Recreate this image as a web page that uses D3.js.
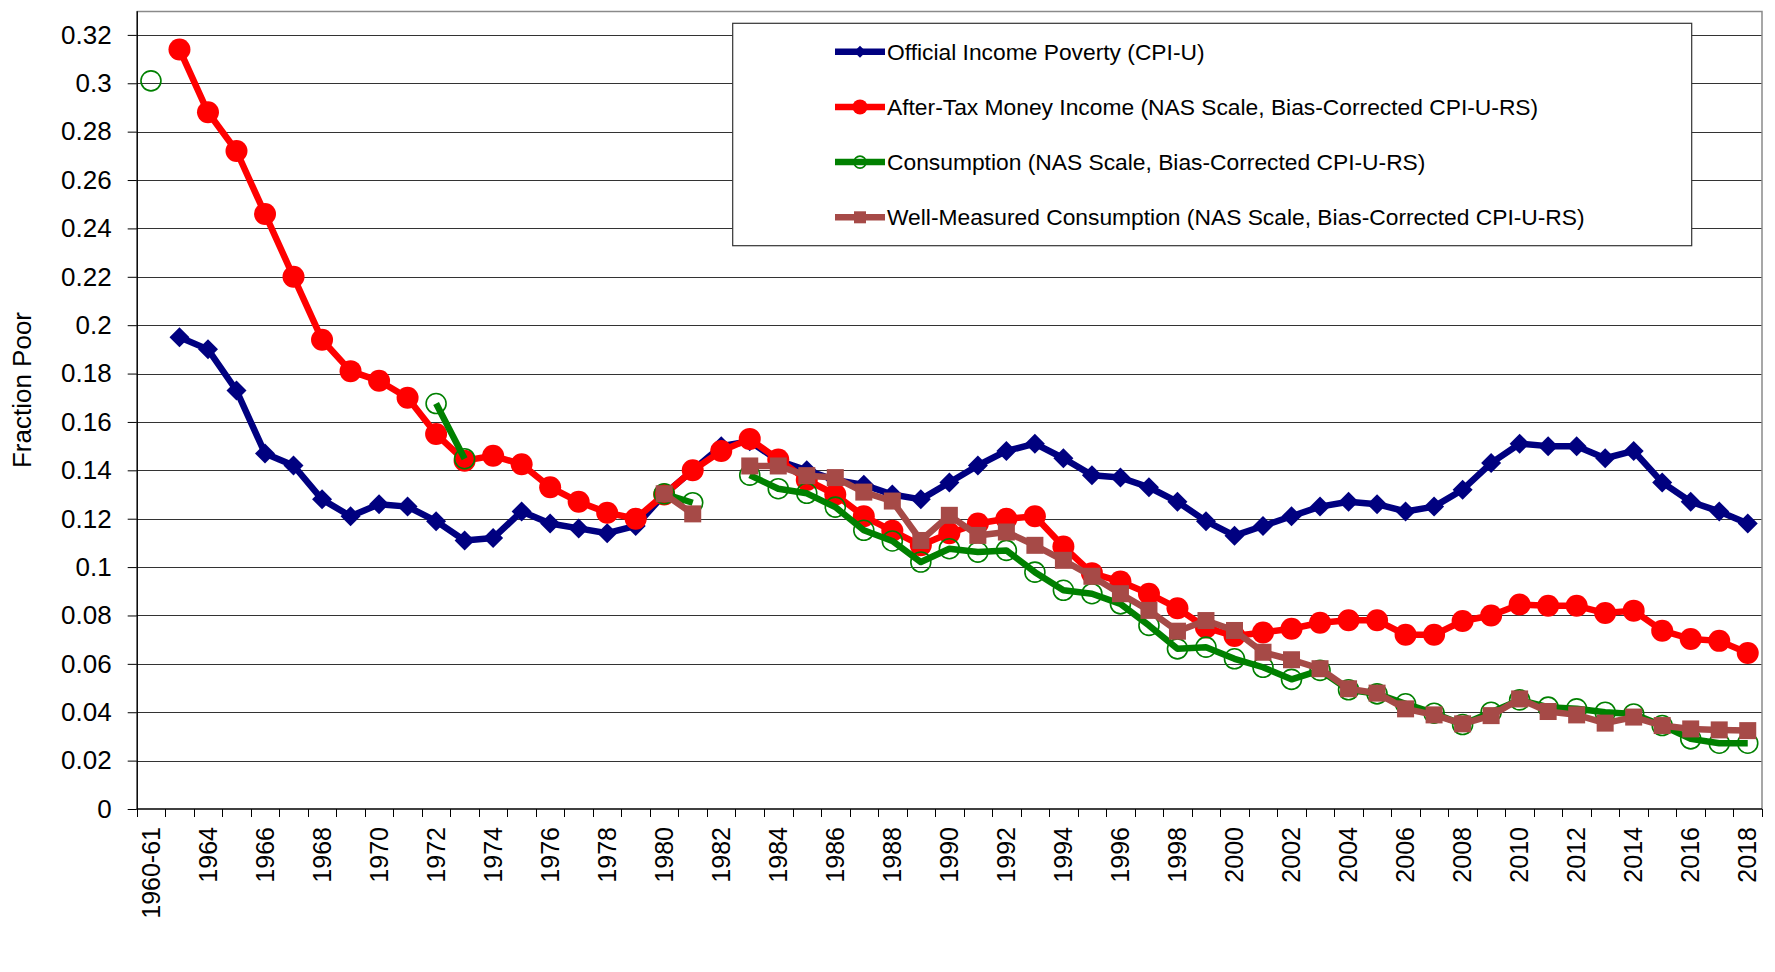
<!DOCTYPE html>
<html>
<head>
<meta charset="utf-8">
<script src="https://cdnjs.cloudflare.com/ajax/libs/d3/7.8.5/d3.min.js"></script>
<style>
  body { margin: 0; background: #fff; }
  text { font-family: Arial, "Liberation Sans", sans-serif; fill: #000; }
</style>
</head>
<body>
<div id="chart_div"></div>
<script>
// categories (1962 is not in the data, 1960-61 is one survey)
var categories = ["1960-61", "1963", "1964", "1965", "1966", "1967", "1968", "1969", "1970", "1971",
  "1972", "1973", "1974", "1975", "1976", "1977", "1978", "1979", "1980", "1981",
  "1982", "1983", "1984", "1985", "1986", "1987", "1988", "1989", "1990", "1991",
  "1992", "1993", "1994", "1995", "1996", "1997", "1998", "1999", "2000", "2001",
  "2002", "2003", "2004", "2005", "2006", "2007", "2008", "2009", "2010", "2011",
  "2012", "2013", "2014", "2015", "2016", "2017", "2018"];

var official = [null, 0.195, 0.190, 0.173, 0.147, 0.142, 0.128, 0.121, 0.126, 0.125,
  0.119, 0.111, 0.112, 0.123, 0.118, 0.116, 0.114, 0.117, 0.130, 0.140,
  0.150, 0.152, 0.144, 0.140, 0.136, 0.134, 0.130, 0.128, 0.135, 0.142,
  0.148, 0.151, 0.145, 0.138, 0.137, 0.133, 0.127, 0.119, 0.113, 0.117,
  0.121, 0.125, 0.127, 0.126, 0.123, 0.125, 0.132, 0.143, 0.151, 0.150,
  0.150, 0.145, 0.148, 0.135, 0.127, 0.123, 0.118];

var afterTax = [null, 0.314, 0.288, 0.272, 0.246, 0.220, 0.194, 0.181, 0.177, 0.170,
  0.155, 0.144, 0.146, 0.1425, 0.133, 0.127, 0.1225, 0.120, 0.130, 0.140,
  0.148, 0.153, 0.1445, 0.136, 0.130, 0.121, 0.115, 0.109, 0.114, 0.118,
  0.120, 0.121, 0.1085, 0.0975, 0.094, 0.089, 0.083, 0.075, 0.0715, 0.073,
  0.0745, 0.077, 0.078, 0.078, 0.072, 0.072, 0.0777, 0.080, 0.0845, 0.084,
  0.084, 0.081, 0.082, 0.0737, 0.0703, 0.0695, 0.0645];

var consumption = [0.301, null, null, null, null, null, null, null, null, null,
  0.1676, 0.1448, null, null, null, null, null, null, 0.1303, 0.1266,
  null, 0.138, 0.1324, 0.1305, 0.1248, 0.1152, 0.1108, 0.1021, 0.1076, 0.1062,
  0.1069, 0.0979, 0.0904, 0.089, 0.0848, 0.0759, 0.0662, 0.0669, 0.0621, 0.0586,
  0.0536, 0.0573, 0.0493, 0.0476, 0.0435, 0.0396, 0.0349, 0.040, 0.0451, 0.0421,
  0.0414, 0.040, 0.0393, 0.0345, 0.029, 0.0272, 0.0272];

var wellMeasured = [null, null, null, null, null, null, null, null, null, null,
  null, null, null, null, null, null, null, null, 0.1303, 0.122,
  null, 0.1418, 0.1418, 0.1378, 0.137, 0.131, 0.1273, 0.111, 0.1214, 0.1131,
  0.1145, 0.109, 0.1028, 0.0962, 0.089, 0.0821, 0.0735, 0.0779, 0.0738, 0.0648,
  0.0617, 0.058, 0.0497, 0.0479, 0.0414, 0.0389, 0.0352, 0.0386, 0.0455, 0.0403,
  0.0389, 0.0355, 0.038, 0.0345, 0.0331, 0.0327, 0.0324];

var yTicks = [0, 0.02, 0.04, 0.06, 0.08, 0.1, 0.12, 0.14, 0.16, 0.18, 0.2, 0.22, 0.24, 0.26, 0.28, 0.3, 0.32];

var seriesNames = [
  "Official Income Poverty (CPI-U)",
  "After-Tax Money Income (NAS Scale, Bias-Corrected CPI-U-RS)",
  "Consumption (NAS Scale, Bias-Corrected CPI-U-RS)",
  "Well-Measured Consumption (NAS Scale, Bias-Corrected CPI-U-RS)"
];

var width = 1775, height = 972;
var plot = { left: 136.7, right: 1762, top: 10.7, bottom: 809 };

var svg = d3.select("#chart_div")
  .append("svg")
  .attr("width", width)
  .attr("height", height);

// scales
var x = d3.scaleBand()
  .domain(categories)
  .range([plot.left, plot.right])
  .paddingInner(0)
  .paddingOuter(0);

var y = d3.scaleLinear()
  .domain([0, 0.33])
  .range([plot.bottom, plot.top]);

function cx(d, i) { return x(categories[i]) + x.bandwidth() / 2; }

// gridlines
svg.append("g")
  .selectAll("line")
  .data(yTicks.slice(1))
  .enter()
  .append("line")
  .attr("x1", plot.left)
  .attr("x2", plot.right)
  .attr("y1", function(d) { return Math.round(y(d)) + 0.5; })
  .attr("y2", function(d) { return Math.round(y(d)) + 0.5; })
  .attr("stroke", "#333")
  .attr("stroke-width", 1);

// plot border top / right
svg.append("path")
  .attr("d", "M" + plot.left + "," + (Math.round(plot.top) + 0.5) + "H" + plot.right + "V" + plot.bottom)
  .attr("fill", "none")
  .attr("stroke", "#8a8a8a")
  .attr("stroke-width", 1.5);

// Y axis
var yAxis = svg.append("g")
  .attr("transform", "translate(" + plot.left + ",0)")
  .call(d3.axisLeft(y)
    .tickValues(yTicks)
    .tickSize(9)
    .tickSizeOuter(0)
    .tickPadding(16)
    .tickFormat(function(d) { return String(+d.toFixed(2)); }));
yAxis.select(".domain").attr("stroke", "#000").attr("stroke-width", 1.5);
yAxis.selectAll(".tick line").attr("stroke", "#000");
yAxis.selectAll("text")
  .style("font-family", "Arial, 'Liberation Sans', sans-serif")
  .style("font-size", "26px");

// X axis: ticks at every category boundary, labels on every other category
var xg = svg.append("g");
xg.append("line")
  .attr("x1", plot.left)
  .attr("x2", plot.right)
  .attr("y1", plot.bottom)
  .attr("y2", plot.bottom)
  .attr("stroke", "#000")
  .attr("stroke-width", 1.5);

var boundaries = categories.map(function(c) { return x(c); }).concat([plot.right]);
xg.selectAll(".xtick")
  .data(boundaries)
  .enter()
  .append("line")
  .attr("class", "xtick")
  .attr("x1", function(d) { return Math.round(d) + 0.5; })
  .attr("x2", function(d) { return Math.round(d) + 0.5; })
  .attr("y1", plot.bottom)
  .attr("y2", plot.bottom + 8)
  .attr("stroke", "#000");

xg.selectAll(".xlabel")
  .data(categories.filter(function(c, i) { return i % 2 === 0; }))
  .enter()
  .append("text")
  .attr("class", "xlabel")
  .attr("transform", function(d) {
    return "translate(" + (x(d) + x.bandwidth() / 2) + "," + (plot.bottom + 18) + ") rotate(-90)";
  })
  .attr("text-anchor", "end")
  .attr("dy", "0.35em")
  .style("font-size", "25px")
  .text(function(d) { return d; });

// Y title
svg.append("text")
  .attr("transform", "translate(22,390) rotate(-90)")
  .attr("text-anchor", "middle")
  .attr("dy", "0.35em")
  .style("font-size", "26px")
  .text("Fraction Poor");

// marker shapes
function diamond(s) { return "M0," + -s + "L" + s + ",0L0," + s + "L" + -s + ",0Z"; }

var series = [
  { values: official, color: "#000080", marker: "diamond", size: 10 },
  { values: afterTax, color: "#FF0000", marker: "dot", size: 11 },
  { values: consumption, color: "#008000", marker: "ring", size: 10 },
  { values: wellMeasured, color: "#A64A47", marker: "square", size: 8.5 }
];

function drawMarker(g, s, px, py, size) {
  if (s.marker === "diamond") {
    g.append("path").attr("d", diamond(size))
      .attr("transform", "translate(" + px + "," + py + ")")
      .attr("fill", s.color);
  } else if (s.marker === "dot") {
    g.append("circle").attr("cx", px).attr("cy", py).attr("r", size).attr("fill", s.color);
  } else if (s.marker === "ring") {
    g.append("circle").attr("cx", px).attr("cy", py).attr("r", size)
      .attr("fill", "none").attr("stroke", s.color).attr("stroke-width", 1.6);
  } else {
    g.append("rect").attr("x", px - size).attr("y", py - size)
      .attr("width", size * 2).attr("height", size * 2).attr("fill", s.color);
  }
}

var line = d3.line()
  .defined(function(d) { return d != null; })
  .x(cx)
  .y(function(d) { return y(d); });

series.forEach(function(s) {
  var g = svg.append("g");
  g.append("path")
    .datum(s.values)
    .attr("d", line)
    .attr("fill", "none")
    .attr("stroke", s.color)
    .attr("stroke-width", 6.5)
    .attr("stroke-linejoin", "round");
  s.values.forEach(function(v, i) {
    if (v == null) return;
    drawMarker(g, s, cx(v, i), y(v), s.size);
  });
});

// legend
var legend = svg.append("g");
legend.append("rect")
  .attr("x", 732.7)
  .attr("y", 23.3)
  .attr("width", 959)
  .attr("height", 222.4)
  .attr("fill", "#fff")
  .attr("stroke", "#333")
  .attr("stroke-width", 1.2);

var legendSizes = [6, 7.5, 6, 6];
series.forEach(function(s, i) {
  var ly = 51.7 + i * 55.2;
  var lg = legend.append("g");
  lg.append("line")
    .attr("x1", 835).attr("x2", 885)
    .attr("y1", ly).attr("y2", ly)
    .attr("stroke", s.color)
    .attr("stroke-width", 6.5);
  drawMarker(lg, s, 860, ly, legendSizes[i]);
  lg.append("text")
    .attr("x", 887)
    .attr("y", ly)
    .attr("dy", "0.35em")
    .style("font-size", "22.8px")
    .text(seriesNames[i]);
});
</script>
</body>
</html>
